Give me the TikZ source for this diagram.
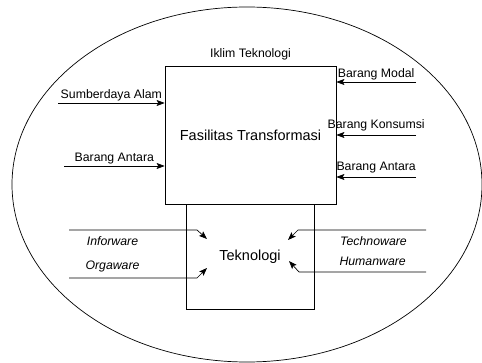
\documentclass[tikz,border=0pt]{standalone}
\usepackage{fontspec}
\setmainfont{Liberation Sans}
\usetikzlibrary{arrows.meta}
\begin{document}
\begin{tikzpicture}[x=1pt,y=-1pt,->,>={Stealth[length=8pt,width=6pt,inset=1.5pt]},line width=0.7pt,
  kotak/.style={-,draw,minimum width=#1},
  lbl/.style={-,font=\fontsize{12.3}{14}\selectfont,inner sep=2pt},
  lbli/.style={lbl,font=\fontsize{12.3}{14}\selectfont\itshape}]
            \useasboundingbox (0,0) rectangle (482,363);
            \draw [-] (247,184.5) ellipse [x radius=235, y radius=177.5];
            \node [kotak=171pt,minimum height=138pt,font=\fontsize{14.5}{17}\selectfont] (fasilitas) at (250.5,135) {Fasilitas Transformasi};
            \node [kotak=128pt,minimum height=105pt,font=\fontsize{14.5}{17}\selectfont] (tekno) at (250,256.5) {Teknologi};
            \node [lbl,above=3pt] (iklim) at (fasilitas.north) {Iklim Teknologi};
            % masukan kiri
            \coordinate (sa) at (58,103);
            \coordinate (bak) at (64,166);
            \draw (sa)--(sa -| fasilitas.west)node[lbl,midway,above]{Sumberdaya Alam};
            \draw (bak)--(bak -| fasilitas.west)node[lbl,midway,above]{Barang Antara};
            % masukan kanan
            \coordinate (bm) at (416,82);
            \coordinate (bko) at (416,135);
            \coordinate (ban) at (416,177);
            \draw (bm)--(bm -| fasilitas.east)node[lbl,midway,above]{Barang Modal};
            \draw (bko)--(bko -| fasilitas.east)node[lbl,midway,above=2pt]{Barang Konsumsi};
            \draw (ban)--(ban -| fasilitas.east)node[lbl,midway,above=2pt]{Barang Antara};
            % komponen teknologi
            \coordinate (inf) at (69,230);
            \coordinate (org) at (69,278);
            \coordinate (tch) at (426,230);
            \coordinate (hum) at (426,272);
            \coordinate (infend) at (207,239);
            \coordinate (orgend) at (207,268);
            \coordinate (tchend) at (288,240);
            \coordinate (humend) at (289,261);
            \draw (inf)--(197,230)node[lbli,pos=0.34,below=4pt]{Inforware}--(infend);
            \draw (org)--(197,278)node[lbli,pos=0.34,above=4pt]{Orgaware}--(orgend);
            \draw (tch)--(298,230)node[lbli,pos=0.41,below=4pt]{Technoware}--(tchend);
            \draw (hum)--(299,272)node[lbli,pos=0.42,above=4pt]{Humanware}--(humend);
        \end{tikzpicture}
\end{document}
